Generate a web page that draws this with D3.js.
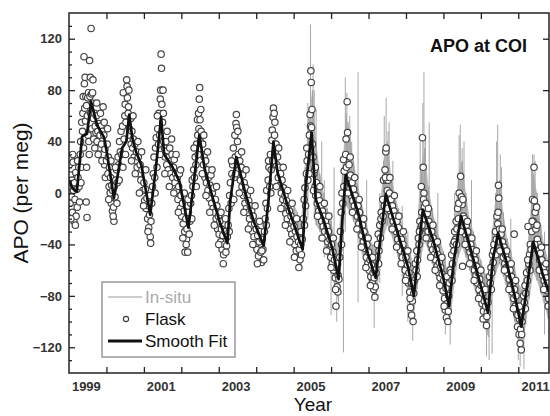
<!DOCTYPE html>
<html>
<head>
<meta charset="utf-8">
<script src="https://cdn.jsdelivr.net/npm/d3@7"></script>
<style>
html, body { margin: 0; padding: 0; background: #fff; }
svg { display: block; font-family: "Liberation Sans", Arial, sans-serif; }
</style>
</head>
<body>
<svg id="chart" width="550" height="416"></svg>
<script>
// APO at COI: in-situ (gray), flask samples (open circles), smooth fit (black)

const yearTicks = [2000, 2001, 2002, 2003, 2004, 2005, 2006, 2007, 2008, 2009, 2010, 2011];
const yearLabels = ["1999", "2001", "2003", "2005", "2007", "2009", "2011"];
const apoTicks = [-120, -80, -40, 0, 40, 80, 120];
const apoMinorTicks = [-130, -110, -100, -90, -70, -60, -50, -30, -20, -10, 10, 20, 30, 50, 60, 70, 90, 100, 110, 130];

// smooth fit (decimal year, per meg)
const fitT = [1999.00, 1999.08, 1999.21, 1999.35, 1999.48, 1999.59, 1999.75, 1999.94, 2000.02, 2000.20,
    2000.42, 2000.53, 2000.61, 2000.69, 2000.79, 2000.93, 2001.17, 2001.33, 2001.46, 2001.54,
    2001.73, 2001.95, 2002.19, 2002.30, 2002.48, 2002.63, 2002.85, 2003.03, 2003.23, 2003.31,
    2003.47, 2003.71, 2003.92, 2004.20, 2004.33, 2004.46, 2004.57, 2004.87, 2005.24, 2005.32,
    2005.48, 2005.59, 2005.80, 2006.04, 2006.20, 2006.30, 2006.39, 2006.72, 2006.98, 2007.19,
    2007.46, 2007.78, 2008.05, 2008.21, 2008.45, 2008.72, 2008.99, 2009.15, 2009.28, 2009.47,
    2009.68, 2009.95, 2010.19, 2010.32, 2010.46, 2010.67, 2010.89, 2011.08, 2011.27, 2011.40,
    2011.67, 2011.83];
const fitV = [10, 4, 1, 44, 46, 71, 53, 43, 30, -4,
    35, 40, 61, 43, 32, 22, -17, 22, 59, 30,
    22, 9, -27, 0, 45, 18, -5, -23, -39, -5,
    28, 0, -21, -41, -5, 40, 16, -13, -44, 5,
    47, -5, -21, -44, -67, -21, 14, -15, -47, -66,
    -1, -31, -57, -80, -13, -36, -65, -88, -52, -18,
    -39, -67, -93, -52, -31, -52, -78, -104, -65, -38,
    -65, -78];

// in-situ record: band envelope every 0.1 yr, plus the tall single excursions
const insituT = [2005.0, 2005.1, 2005.2, 2005.3, 2005.4, 2005.5, 2005.6, 2005.7, 2005.8, 2005.9,
    2006.0, 2006.1, 2006.2, 2006.3, 2006.4, 2006.5, 2006.6, 2006.7, 2006.8, 2006.9,
    2007.0, 2007.1, 2007.2, 2007.3, 2007.4, 2007.5, 2007.6, 2007.7, 2007.8, 2007.9,
    2008.0, 2008.1, 2008.2, 2008.3, 2008.4, 2008.5, 2008.6, 2008.7, 2008.8, 2008.9,
    2009.0, 2009.1, 2009.2, 2009.3, 2009.4, 2009.5, 2009.6, 2009.7, 2009.8, 2009.9,
    2010.0, 2010.1, 2010.2, 2010.3, 2010.4, 2010.5, 2010.6, 2010.7, 2010.8, 2010.9,
    2011.0, 2011.1, 2011.2, 2011.3, 2011.4, 2011.5, 2011.6, 2011.7, 2011.8];
const insituLo = [-40, -48, -58, -30, 5, 15, -25, -30, -38, -50,
    -60, -72, -85, -45, -10, -15, -22, -32, -45, -55,
    -68, -78, -82, -60, -35, -25, -32, -42, -52, -62,
    -72, -85, -98, -75, -50, -38, -45, -55, -64, -75,
    -86, -102, -95, -70, -50, -42, -50, -60, -72, -82,
    -92, -105, -112, -80, -62, -55, -65, -76, -88, -100,
    -115, -125, -102, -82, -62, -68, -78, -88, -98];
const insituHi = [-8, -15, -22, 20, 60, 80, 40, 15, 0, -12,
    -22, -35, -40, 20, 62, 45, 25, 8, -5, -18,
    -30, -40, -40, -15, 25, 40, 15, 0, -12, -25,
    -33, -45, -55, -25, 20, 35, 5, -12, -25, -35,
    -45, -60, -50, -20, 15, 25, 0, -20, -30, -42,
    -52, -62, -65, -30, 0, 10, -15, -35, -45, -57,
    -70, -75, -50, -25, 15, 0, -25, -42, -52];
const insituSpikes = [
    [2005.45, 20, 131], [2005.52, 30, 100], [2005.60, -10, 65], [2005.75, -30, 40], [2005.82, -50, 10],
    [2006.00, -95, -20], [2006.08, -70, 20], [2006.33, -124, -30], [2006.42, 10, 78], [2006.50, -5, 60],
    [2006.55, -10, 40], [2006.72, -85, 94], [2006.95, -60, 10], [2007.30, -70, 0], [2007.47, 0, 74],
    [2007.55, -10, 55], [2007.65, -35, 25], [2007.90, -80, -10], [2008.05, -100, -30], [2008.38, -20, 40],
    [2008.48, -20, 94], [2008.62, -30, 55], [2008.85, -70, 0], [2009.05, -110, -50], [2009.30, -60, 0],
    [2009.45, -20, 53], [2009.55, -30, 40], [2009.75, -65, 10], [2010.15, -127, -70], [2010.30, -125, -60],
    [2010.45, -30, 53], [2010.52, -40, 30], [2010.80, -90, -20], [2011.00, -130, -80], [2011.15, -137, -90],
    [2011.35, -60, 20], [2011.42, -40, 30], [2011.55, -70, -10], [2011.70, -110, -30],
    [2005.38, -20, 70], [2005.55, -20, 80], [2006.38, -30, 90], [2006.46, -10, 55], [2007.42, -20, 60],
    [2007.52, -20, 48], [2008.45, -40, 70], [2008.52, -35, 45], [2009.42, -40, 45], [2009.50, -35, 35],
    [2010.42, -50, 40], [2010.55, -60, 20], [2011.45, -45, 25], [2011.38, -50, 30], [2006.15, -100, -50],
    [2007.15, -105, -60], [2008.18, -115, -70], [2009.18, -118, -70], [2010.22, -130, -80], [2011.05, -135, -85]
];

// flask samples [decimal year, per meg]
const flask = [
    [1999.01, 22], [1999.02, 5], [1999.03, -8], [1999.04, 14], [1999.06, 27], [1999.07, -3], [1999.08, 10], [1999.09, -15],
    [1999.11, 24], [1999.12, 2], [1999.13, -22], [1999.15, 8], [1999.16, -5], [1999.18, 16], [1999.19, -18], [1999.21, 3],
    [1999.22, -11], [1999.24, 12], [1999.26, 20], [1999.28, -7], [1999.30, 30], [1999.31, 40], [1999.33, 20], [1999.34, 55],
    [1999.36, 48], [1999.37, 62], [1999.38, 75], [1999.40, 106], [1999.41, 85], [1999.42, 66], [1999.43, 90], [1999.44, 56],
    [1999.45, 75], [1999.46, -7], [1999.47, 20], [1999.47, 68], [1999.48, -19], [1999.49, 60], [1999.50, 74], [1999.51, 45],
    [1999.52, 78], [1999.53, 40], [1999.55, 103], [1999.56, 75], [1999.57, 90], [1999.58, 62], [1999.59, 128], [1999.60, 77],
    [1999.61, 50], [1999.62, 70], [1999.63, 78], [1999.65, 58], [1999.66, 42], [1999.68, 62], [1999.70, 52], [1999.72, 47],
    [1999.73, 60], [1999.75, 40], [1999.77, 48], [1999.79, 54], [1999.81, 35], [1999.83, 45], [1999.85, 52], [1999.87, 38],
    [1999.89, 48], [1999.91, 67], [1999.92, 30], [1999.93, 45], [1999.95, 22], [1999.96, 34],
    [1999.05, -20], [1999.10, 30], [1999.17, -25], [1999.23, 25], [1999.27, 5], [1999.32, 8], [1999.39, 35], [1999.54, 30],
    [1999.64, 88], [1999.69, 35], [1999.74, 70], [1999.78, 30], [1999.84, 62], [1999.88, 25], [1999.94, 55], [1999.97, 12],
    [2000.00, 25], [2000.02, 38], [2000.04, 15], [2000.05, 28], [2000.07, 5], [2000.08, 20], [2000.10, 0], [2000.11, 12],
    [2000.13, -8], [2000.14, 6], [2000.16, -14], [2000.17, 2], [2000.19, -11], [2000.20, -22], [2000.21, 5], [2000.23, -3],
    [2000.25, 10], [2000.27, 18], [2000.29, 8], [2000.31, 28], [2000.33, 22], [2000.35, 40], [2000.37, 32], [2000.39, 48],
    [2000.41, 30], [2000.43, 52], [2000.45, 78], [2000.47, 42], [2000.49, 60], [2000.50, 69], [2000.52, 55], [2000.54, 88],
    [2000.55, 83], [2000.56, 74], [2000.58, 62], [2000.59, 67], [2000.61, 50], [2000.63, 45], [2000.65, 58], [2000.66, 38],
    [2000.68, 48], [2000.70, 35], [2000.72, 42], [2000.74, 28], [2000.76, 38], [2000.78, 25], [2000.80, 32], [2000.82, 20],
    [2000.85, 28], [2000.87, 15], [2000.90, 22], [2000.92, 10], [2000.95, 18], [2000.97, 2], [2001.00, 8], [2001.02, -6],
    [2001.04, 3], [2001.06, -12], [2001.08, -4], [2001.10, -20], [2001.12, -10], [2001.13, -27], [2001.15, -17], [2001.17, -34],
    [2001.18, -39], [2001.19, -22], [2001.21, -8], [2001.23, 5], [2001.25, 15],
    [2000.03, 50], [2000.06, -5], [2000.12, 25], [2000.18, -18], [2000.24, 20], [2000.28, -8], [2000.34, 10], [2000.44, 20],
    [2000.51, 30], [2000.60, 80], [2000.67, 25], [2000.71, 60], [2000.77, 15], [2000.84, 40], [2000.88, 0], [2000.94, 32],
    [2000.99, -10], [2001.05, 18], [2001.11, -30], [2001.16, -2],
    [2001.27, 28], [2001.29, 12], [2001.31, 35], [2001.33, 43], [2001.35, 20], [2001.37, 50], [2001.39, 38], [2001.40, 62],
    [2001.42, 45], [2001.44, 73], [2001.45, 80], [2001.46, 108], [2001.47, 97], [2001.48, 69], [2001.50, 55], [2001.52, 62],
    [2001.53, 40], [2001.55, 35], [2001.57, 28], [2001.59, 40], [2001.61, 22], [2001.63, 33], [2001.65, 18], [2001.67, 28],
    [2001.69, 35], [2001.71, 15], [2001.73, 25], [2001.75, 30], [2001.77, 12], [2001.79, 20], [2001.81, 26], [2001.83, 8],
    [2001.85, 15], [2001.87, 2], [2001.89, 12], [2001.91, -5], [2001.93, 5], [2001.95, 15], [2001.97, -12], [2001.99, -2],
    [2002.01, -18], [2002.03, -8], [2002.05, -24], [2002.07, -14], [2002.09, -30], [2002.10, -46], [2002.12, -20], [2002.14, -36],
    [2002.15, -28], [2002.17, -46], [2002.19, -15], [2002.21, -32], [2002.23, -22], [2002.25, -8],
    [2001.30, 0], [2001.36, 60], [2001.43, 30], [2001.51, 80], [2001.56, 15], [2001.62, 48], [2001.68, 5], [2001.74, 42],
    [2001.80, 0], [2001.86, 30], [2001.92, -15], [2001.98, 18], [2002.04, -35], [2002.08, 0], [2002.13, -40], [2002.18, -5],
    [2002.27, -2], [2002.29, 10], [2002.31, 5], [2002.33, 18], [2002.35, 12], [2002.37, 28], [2002.39, 22], [2002.41, 38],
    [2002.43, 57], [2002.44, 45], [2002.46, 62], [2002.47, 50], [2002.48, 73], [2002.49, 82], [2002.50, 57], [2002.51, 40],
    [2002.53, 48], [2002.55, 30], [2002.57, 38], [2002.59, 22], [2002.61, 28], [2002.63, 12], [2002.65, 25], [2002.67, 8],
    [2002.69, 18], [2002.71, 2], [2002.73, 12], [2002.75, -4], [2002.77, 6], [2002.79, 14], [2002.81, -8], [2002.83, 0],
    [2002.85, -12], [2002.87, 4], [2002.89, -15], [2002.91, -5], [2002.93, -20], [2002.95, -10], [2002.97, -28], [2002.99, -18],
    [2003.01, -32], [2003.03, -22], [2003.05, -38], [2003.07, -28], [2003.09, -44], [2003.11, -33], [2003.13, -48], [2003.15, -40],
    [2003.17, -30], [2003.19, -46], [2003.21, -41], [2003.23, -34], [2003.25, -25],
    [2002.28, -20], [2002.34, 35], [2002.40, 5], [2002.45, 30], [2002.52, 65], [2002.56, 15], [2002.60, 45], [2002.66, -2],
    [2002.70, 32], [2002.76, -15], [2002.82, 18], [2002.88, -25], [2002.94, 5], [2003.00, -40], [2003.06, -15], [2003.12, -55],
    [2003.18, -20],
    [2003.27, -12], [2003.29, -2], [2003.31, 8], [2003.33, -8], [2003.35, 15], [2003.37, 22], [2003.39, 35], [2003.41, 12],
    [2003.43, 45], [2003.44, 28], [2003.46, 54], [2003.47, 61], [2003.48, 51], [2003.50, 40], [2003.52, 30], [2003.54, 18],
    [2003.56, 25], [2003.58, 10], [2003.60, 20], [2003.62, 5], [2003.64, 14], [2003.66, -2], [2003.68, 8], [2003.70, -8],
    [2003.72, 4], [2003.74, -12], [2003.76, -2], [2003.78, -15], [2003.80, -6], [2003.82, -20], [2003.84, -10], [2003.86, -25],
    [2003.88, -14], [2003.90, -30], [2003.92, -18], [2003.94, -34], [2003.96, -24], [2003.98, -40], [2004.00, -28], [2004.02, -44],
    [2004.04, -33], [2004.06, -49], [2004.08, -38], [2004.10, -30], [2004.12, -46], [2004.14, -54], [2004.16, -36], [2004.18, -44],
    [2004.20, -52], [2004.22, -30], [2004.24, -20],
    [2003.28, -30], [2003.34, 25], [2003.40, -5], [2003.45, 15], [2003.51, 48], [2003.55, 0], [2003.61, 32], [2003.67, -15],
    [2003.73, 18], [2003.79, -28], [2003.85, 2], [2003.91, -40], [2003.97, -10], [2004.03, -55], [2004.09, -22], [2004.15, -45],
    [2004.26, -8], [2004.28, 2], [2004.30, -12], [2004.32, 10], [2004.34, 20], [2004.36, 5], [2004.38, 30], [2004.40, 18],
    [2004.42, 41], [2004.43, 49], [2004.45, 59], [2004.46, 66], [2004.48, 62], [2004.49, 45], [2004.51, 32], [2004.53, 38],
    [2004.55, 22], [2004.57, 28], [2004.59, 12], [2004.61, 20], [2004.63, 6], [2004.65, 15], [2004.67, 0], [2004.69, 10],
    [2004.71, -5], [2004.73, 4], [2004.75, -10], [2004.77, -2], [2004.79, -16], [2004.81, -6], [2004.83, -20], [2004.85, -10],
    [2004.87, -25], [2004.89, -14], [2004.91, -28], [2004.93, -18], [2004.95, -32], [2004.97, -22], [2004.99, -36], [2005.01, -26],
    [2005.03, -40], [2005.05, -30], [2005.07, -45], [2005.09, -34], [2005.11, -50], [2005.13, -38], [2005.15, -44], [2005.17, -52],
    [2005.19, -40], [2005.21, -48], [2005.23, -36],
    [2004.27, -25], [2004.33, 25], [2004.39, 0], [2004.44, 25], [2004.50, 55], [2004.54, 5], [2004.60, 35], [2004.66, -12],
    [2004.72, 20], [2004.78, -25], [2004.84, 2], [2004.90, -38], [2004.96, -8], [2005.02, -50], [2005.08, -20], [2005.14, -58],
    [2005.20, -30],
    [2005.26, -20], [2005.28, -5], [2005.30, 4], [2005.32, -10], [2005.34, 15], [2005.36, 25], [2005.38, 10], [2005.40, 30],
    [2005.42, 45], [2005.44, 61], [2005.45, 52], [2005.46, 95], [2005.47, 86], [2005.48, 51], [2005.50, 38], [2005.52, 28],
    [2005.54, 15], [2005.56, 18], [2005.57, 5], [2005.59, -2], [2005.61, 8], [2005.63, -8], [2005.65, -2], [2005.67, -14],
    [2005.69, -6], [2005.71, -18], [2005.73, -10], [2005.75, -22], [2005.77, -14], [2005.79, -26], [2005.81, -18], [2005.83, -30],
    [2005.85, -22], [2005.87, -34], [2005.89, -26], [2005.91, -38], [2005.93, -30], [2005.95, -44], [2005.97, -36], [2005.99, -50],
    [2006.01, -40], [2006.03, -55], [2006.05, -46], [2006.07, -60], [2006.09, -52], [2006.11, -66], [2006.13, -88], [2006.14, -58],
    [2006.16, -73], [2006.18, -77], [2006.19, -64], [2006.21, -67], [2006.23, -50],
    [2005.29, -25], [2005.35, 35], [2005.41, 15], [2005.49, 65], [2005.53, 2], [2005.58, 20], [2005.64, -18], [2005.70, 5],
    [2005.76, -35], [2005.82, -8], [2005.88, -45], [2005.94, -18], [2006.00, -58], [2006.06, -35], [2006.12, -75], [2006.17, -55],
    [2006.25, -30], [2006.27, -15], [2006.29, 0], [2006.31, -8], [2006.33, 26], [2006.35, 17], [2006.37, 5], [2006.39, 30],
    [2006.41, 20], [2006.43, 71], [2006.44, 47], [2006.46, 12], [2006.48, 22], [2006.50, 4], [2006.52, 14], [2006.54, -2],
    [2006.56, 8], [2006.58, -6], [2006.60, 3], [2006.62, -10], [2006.64, -2], [2006.66, -14], [2006.68, -6], [2006.70, -18],
    [2006.72, -10], [2006.74, -24], [2006.76, -15], [2006.78, -28], [2006.80, -20], [2006.82, -33], [2006.84, -25], [2006.86, -38],
    [2006.88, -30], [2006.90, -43], [2006.92, -35], [2006.94, -50], [2006.96, -40], [2006.98, -55], [2007.00, -46], [2007.02, -60],
    [2007.04, -52], [2007.06, -65], [2007.08, -56], [2007.10, -70], [2007.12, -62], [2007.14, -75], [2007.15, -66], [2007.17, -81],
    [2007.18, -73], [2007.20, -62], [2007.22, -50],
    [2006.28, -40], [2006.34, 5], [2006.40, 42], [2006.45, 0], [2006.51, 28], [2006.57, -15], [2006.63, 12], [2006.69, -28],
    [2006.75, -5], [2006.81, -42], [2006.87, -20], [2006.93, -58], [2006.99, -35], [2007.05, -72], [2007.11, -50], [2007.16, -60],
    [2007.24, -40], [2007.26, -32], [2007.28, -45], [2007.30, -25], [2007.32, -35], [2007.34, -15], [2007.36, -22], [2007.38, -5],
    [2007.40, 10], [2007.42, -10], [2007.44, 18], [2007.46, 32], [2007.47, 35], [2007.48, 10], [2007.50, 2], [2007.52, 10],
    [2007.54, -8], [2007.56, 0], [2007.58, -14], [2007.60, -5], [2007.62, -18], [2007.64, -10], [2007.66, -22], [2007.68, -14],
    [2007.70, -26], [2007.72, -18], [2007.74, -30], [2007.76, -22], [2007.78, -36], [2007.80, -27], [2007.82, -40], [2007.84, -32],
    [2007.86, -45], [2007.88, -36], [2007.90, -50], [2007.92, -40], [2007.94, -55], [2007.96, -46], [2007.98, -60], [2008.00, -50],
    [2008.02, -65], [2008.04, -56], [2008.06, -70], [2008.08, -62], [2008.10, -77], [2008.12, -89], [2008.14, -70], [2008.15, -95],
    [2008.17, -84], [2008.19, -100], [2008.21, -78], [2008.23, -68], [2008.25, -55],
    [2007.27, -55], [2007.33, -20], [2007.39, -18], [2007.45, 12], [2007.51, -12], [2007.57, 12], [2007.63, -28], [2007.69, -2],
    [2007.75, -42], [2007.81, -18], [2007.87, -55], [2007.93, -30], [2007.99, -68], [2008.05, -45], [2008.11, -82], [2008.16, -70],
    [2008.27, -60], [2008.29, -45], [2008.31, -52], [2008.33, -35], [2008.35, -40], [2008.37, -22], [2008.39, -28], [2008.41, 5],
    [2008.42, -15], [2008.44, 43], [2008.46, 20], [2008.47, -5], [2008.49, -11], [2008.51, -20], [2008.53, -8], [2008.55, -25],
    [2008.57, -16], [2008.59, -30], [2008.61, -22], [2008.63, -35], [2008.65, -26], [2008.67, -40], [2008.69, -30], [2008.71, -44],
    [2008.73, -35], [2008.75, -48], [2008.77, -40], [2008.79, -52], [2008.81, -44], [2008.83, -57], [2008.85, -48], [2008.87, -62],
    [2008.89, -54], [2008.91, -66], [2008.93, -58], [2008.95, -72], [2008.97, -63], [2008.99, -76], [2009.01, -68], [2009.03, -82],
    [2009.05, -91], [2009.07, -74], [2009.08, -97], [2009.10, -86], [2009.12, -100], [2009.14, -80], [2009.16, -70], [2009.18, -60],
    [2008.30, -65], [2008.36, -30], [2008.43, -25], [2008.48, 0], [2008.54, -35], [2008.60, -12], [2008.66, -50], [2008.72, -25],
    [2008.78, -60], [2008.84, -38], [2008.90, -72], [2008.96, -50], [2009.02, -88], [2009.09, -65], [2009.13, -92],
    [2009.20, -62], [2009.22, -48], [2009.24, -55], [2009.26, -40], [2009.28, -45], [2009.30, -30], [2009.32, -36], [2009.34, -22],
    [2009.36, -28], [2009.38, -12], [2009.40, -20], [2009.42, 0], [2009.44, -8], [2009.46, 13], [2009.48, -3], [2009.50, -9],
    [2009.51, -57], [2009.53, -18], [2009.55, -26], [2009.57, -20], [2009.59, -32], [2009.61, -25], [2009.63, -36], [2009.65, -30],
    [2009.67, -42], [2009.69, -35], [2009.71, -46], [2009.73, -40], [2009.75, -50], [2009.77, -44], [2009.79, -55], [2009.81, -48],
    [2009.83, -60], [2009.85, -52], [2009.87, -64], [2009.89, -57], [2009.91, -70], [2009.93, -62], [2009.95, -75], [2009.97, -67],
    [2009.99, -80], [2010.01, -72], [2010.03, -86], [2010.05, -78], [2010.07, -92], [2010.09, -84], [2010.11, -98], [2010.13, -88],
    [2010.15, -103], [2010.17, -93], [2010.19, -85], [2010.21, -75], [2010.23, -65],
    [2009.23, -68], [2009.29, -38], [2009.35, -40], [2009.41, -8], [2009.47, -30], [2009.52, -5], [2009.58, -40], [2009.64, -22],
    [2009.70, -55], [2009.76, -35], [2009.82, -68], [2009.88, -45], [2009.94, -82], [2010.00, -60], [2010.06, -98], [2010.12, -75],
    [2010.16, -96],
    [2010.25, -70], [2010.27, -58], [2010.29, -62], [2010.31, -48], [2010.33, -54], [2010.35, -40], [2010.37, -46], [2010.39, -30],
    [2010.41, -36], [2010.43, -18], [2010.45, -24], [2010.47, 6], [2010.48, -4], [2010.50, -28], [2010.52, -38], [2010.54, -32],
    [2010.56, -45], [2010.58, -38], [2010.60, -50], [2010.62, -42], [2010.64, -55], [2010.66, -48], [2010.68, -58], [2010.70, -52],
    [2010.72, -62], [2010.74, -56], [2010.76, -67], [2010.78, -60], [2010.80, -72], [2010.82, -65], [2010.84, -77], [2010.86, -70],
    [2010.88, -82], [2010.89, -32], [2010.90, -75], [2010.92, -88], [2010.94, -80], [2010.96, -94], [2010.98, -104], [2011.00, -90],
    [2011.02, -110], [2011.03, -98], [2011.05, -117], [2011.06, -106], [2011.08, -122], [2011.10, -100], [2011.12, -92], [2011.14, -80],
    [2010.28, -75], [2010.34, -45], [2010.40, -48], [2010.46, -15], [2010.51, -45], [2010.57, -28], [2010.63, -60], [2010.69, -45],
    [2010.75, -75], [2010.81, -55], [2010.87, -90], [2010.93, -68], [2010.99, -95], [2011.04, -88], [2011.09, -110],
    [2011.16, -85], [2011.18, -72], [2011.20, -78], [2011.22, -62], [2011.24, -68], [2011.26, -26], [2011.28, -55], [2011.30, -48],
    [2011.32, -40], [2011.34, -44], [2011.36, -30], [2011.38, -5], [2011.40, -22], [2011.42, 20], [2011.43, -6], [2011.45, -15],
    [2011.47, -28], [2011.49, -11], [2011.51, -36], [2011.53, -45], [2011.55, -40], [2011.57, -52], [2011.59, -47], [2011.61, -58],
    [2011.63, -52], [2011.65, -64], [2011.67, -58], [2011.69, -68], [2011.71, -62], [2011.73, -72], [2011.75, -66], [2011.77, -76],
    [2011.79, -70], [2011.81, -82],
    [2011.19, -90], [2011.25, -52], [2011.31, -60], [2011.37, -22], [2011.44, -40], [2011.50, -25], [2011.56, -60], [2011.62, -42],
    [2011.68, -75], [2011.74, -55], [2011.80, -88]
];

const svg = d3.select("#chart");
const plot = { left: 69, top: 13, right: 549, bottom: 373 };

const x = d3.scaleLinear().domain([1999, 2011.82]).range([plot.left, plot.right]);
const y = d3.scaleLinear().domain([-140, 140]).range([plot.bottom, plot.top]);

svg.append("defs").append("clipPath").attr("id", "clip")
    .append("rect")
    .attr("x", plot.left).attr("y", plot.top)
    .attr("width", plot.right - plot.left).attr("height", plot.bottom - plot.top);

const g = svg.append("g").attr("clip-path", "url(#clip)");

// in-situ: light band plus the noisy trace running between its edges
const insitu = insituT.map((t, i) => ({ t: t, lo: insituLo[i], hi: insituHi[i] }));
const band = d3.area()
    .x(d => x(d.t))
    .y0(d => y(d.lo))
    .y1(d => y(d.hi));

g.append("path")
    .datum(insitu)
    .attr("d", band)
    .attr("fill", "#bdbdbd");

const trace = insitu.flatMap(d => [[d.t, d.lo], [d.t, d.hi]]);
g.append("path")
    .datum(trace)
    .attr("d", d3.line().x(d => x(d[0])).y(d => y(d[1])))
    .attr("fill", "none")
    .attr("stroke", "#9a9a9a")
    .attr("stroke-width", 0.7);

g.selectAll(".spike")
    .data(insituSpikes)
    .enter()
    .append("line")
    .attr("class", "spike")
    .attr("x1", d => x(d[0])).attr("x2", d => x(d[0]))
    .attr("y1", d => y(d[1])).attr("y2", d => y(d[2]))
    .attr("stroke", "#a8a8a8")
    .attr("stroke-width", 1);

// flask
g.selectAll(".flask")
    .data(flask)
    .enter()
    .append("circle")
    .attr("class", "flask")
    .attr("cx", d => x(d[0]))
    .attr("cy", d => y(d[1]))
    .attr("r", 3.2)
    .attr("fill", "#fff")
    .attr("stroke", "#444")
    .attr("stroke-width", 1.2);

// smooth fit
const fit = fitT.map((t, i) => [t, fitV[i]]);
g.append("path")
    .datum(fit)
    .attr("d", d3.line().x(d => x(d[0])).y(d => y(d[1])))
    .attr("fill", "none")
    .attr("stroke", "#111")
    .attr("stroke-width", 2.7)
    .attr("stroke-linejoin", "round");

// axes, ticks point inward on all four sides
function styleAxis(sel) {
    sel.select(".domain").remove();
    sel.selectAll(".tick line").attr("stroke", "#222").attr("stroke-width", 1.3);
    sel.selectAll("text")
        .attr("font-family", "'Liberation Sans', Arial, sans-serif")
        .attr("font-size", 13)
        .attr("font-weight", "bold")
        .attr("fill", "#333");
}

svg.append("g")
    .attr("transform", `translate(0, ${plot.bottom})`)
    .call(d3.axisBottom(x).tickValues(yearTicks).tickSize(-6).tickFormat(""))
    .call(styleAxis);

svg.append("g")
    .attr("transform", `translate(0, ${plot.top})`)
    .call(d3.axisTop(x).tickValues(yearTicks).tickSize(-6).tickFormat(""))
    .call(styleAxis);

// year labels sit inside their year
svg.append("g")
    .attr("transform", `translate(0, ${plot.bottom})`)
    .call(d3.axisBottom(x).tickValues(yearLabels.map(s => +s + 0.45)).tickSize(0).tickPadding(9)
        .tickFormat((d, i) => yearLabels[i]))
    .call(styleAxis);

svg.append("g")
    .attr("transform", `translate(${plot.left}, 0)`)
    .call(d3.axisLeft(y).tickValues(apoTicks).tickSize(-6).tickPadding(7))
    .call(styleAxis);

svg.append("g")
    .attr("transform", `translate(${plot.left}, 0)`)
    .call(d3.axisLeft(y).tickValues(apoMinorTicks).tickSize(-3).tickFormat(""))
    .call(styleAxis);

svg.append("g")
    .attr("transform", `translate(${plot.right}, 0)`)
    .call(d3.axisRight(y).tickValues(apoTicks).tickSize(-6).tickFormat(""))
    .call(styleAxis);

svg.append("rect")
    .attr("x", plot.left).attr("y", plot.top)
    .attr("width", plot.right - plot.left).attr("height", plot.bottom - plot.top)
    .attr("fill", "none")
    .attr("stroke", "#222")
    .attr("stroke-width", 1.5);

// axis titles
svg.append("text")
    .attr("transform", "translate(28, 193) rotate(-90)")
    .attr("text-anchor", "middle")
    .attr("font-size", 21)
    .attr("fill", "#111")
    .text("APO (per meg)");

svg.append("text")
    .attr("x", 313).attr("y", 411)
    .attr("text-anchor", "middle")
    .attr("font-size", 19)
    .attr("fill", "#111")
    .text("Year");

svg.append("text")
    .attr("x", 527).attr("y", 52)
    .attr("text-anchor", "end")
    .attr("font-size", 18)
    .attr("font-weight", "bold")
    .attr("fill", "#111")
    .text("APO at COI");

// legend
const legend = svg.append("g").attr("transform", "translate(102, 282)");
legend.append("rect")
    .attr("width", 133).attr("height", 75)
    .attr("fill", "#fff")
    .attr("stroke", "#999")
    .attr("stroke-width", 1.5);

legend.append("line")
    .attr("x1", 6).attr("x2", 40).attr("y1", 15).attr("y2", 15)
    .attr("stroke", "#bbb").attr("stroke-width", 1.5);
legend.append("circle")
    .attr("cx", 24).attr("cy", 37).attr("r", 2.6)
    .attr("fill", "#fff").attr("stroke", "#3a3a3a").attr("stroke-width", 1.1);
legend.append("line")
    .attr("x1", 6).attr("x2", 40).attr("y1", 59).attr("y2", 59)
    .attr("stroke", "#111").attr("stroke-width", 3);

const legendText = [
    { label: "In-situ", color: "#aaa", y: 21 },
    { label: "Flask", color: "#111", y: 43 },
    { label: "Smooth Fit", color: "#111", y: 65 }
];
legend.selectAll(".ltext")
    .data(legendText)
    .enter()
    .append("text")
    .attr("class", "ltext")
    .attr("x", 43)
    .attr("y", d => d.y)
    .attr("font-size", 17)
    .attr("fill", d => d.color)
    .text(d => d.label);
</script>
</body>
</html>
